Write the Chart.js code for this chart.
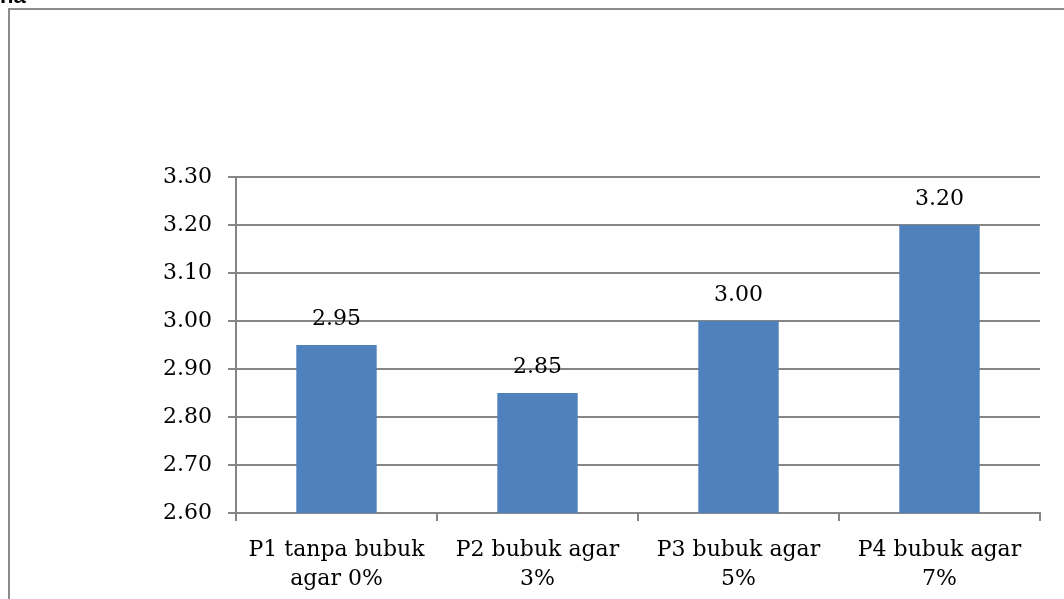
<!DOCTYPE html>
<html>
<head>
<meta charset="utf-8">
<script src="https://cdn.jsdelivr.net/npm/chart.js@4.4.0/dist/chart.umd.min.js"></script>
<style>
  html, body { margin: 0; padding: 0; background: #fff; }
  #wrap { position: relative; width: 1064px; height: 599px; overflow: hidden; }
  canvas { display: block; }
</style>
</head>
<body>
<div id="wrap"><canvas id="c" width="1064" height="599"></canvas></div>
<script>
// Treatments (agar powder concentration) and their mean scores
const categories = [
  ["P1 tanpa bubuk", "agar 0%"],
  ["P2 bubuk agar", "3%"],
  ["P3 bubuk agar", "5%"],
  ["P4 bubuk agar", "7%"]
];
const scores = [2.95, 2.85, 3.00, 3.20];
const yMin = 2.60;
const yMax = 3.30;
const yStep = 0.10;

const FONT = "'DejaVu Serif', 'Liberation Serif', serif";
const GRID = '#868686';
const BAR = '#4F81BD';

// Outer frame and the partly hidden heading above it
const framePlugin = {
  id: 'frame',
  beforeDraw(chart) {
    const ctx = chart.ctx;
    ctx.save();
    ctx.fillStyle = '#fff';
    ctx.fillRect(0, 0, chart.width, chart.height);
    ctx.strokeStyle = '#8c8c8c';
    ctx.lineWidth = 2;
    ctx.strokeRect(9, 9, chart.width + 20, chart.height + 20);
    ctx.fillStyle = '#000';
    ctx.font = "bold 22px 'Liberation Sans', Arial, sans-serif";
    ctx.textBaseline = 'alphabetic';
    ctx.fillText('na', 0, 3);
    ctx.restore();
  }
};

// Value printed above each bar
const valueLabels = {
  id: 'valueLabels',
  afterDatasetsDraw(chart) {
    const ctx = chart.ctx;
    const meta = chart.getDatasetMeta(0);
    ctx.save();
    ctx.fillStyle = '#000';
    ctx.font = '22px ' + FONT;
    ctx.textAlign = 'center';
    ctx.textBaseline = 'middle';
    meta.data.forEach((bar, i) => {
      ctx.fillText(scores[i].toFixed(2), bar.x, bar.y - 26);
    });
    ctx.restore();
  }
};

new Chart(document.getElementById('c'), {
  type: 'bar',
  data: {
    labels: categories,
    datasets: [{
      data: scores,
      backgroundColor: BAR,
      borderWidth: 0,
      barPercentage: 0.4,
      categoryPercentage: 1.0
    }]
  },
  options: {
    responsive: false,
    animation: false,
    layout: { padding: { top: 177, right: 24, left: 0, bottom: 0 } },
    plugins: { legend: { display: false }, tooltip: { enabled: false } },
    scales: {
      x: {
        offset: true,
        grid: {
          offset: true,
          drawOnChartArea: false,
          drawTicks: true,
          tickLength: 8,
          color: GRID,
          lineWidth: 2
        },
        border: { color: GRID, width: 2 },
        ticks: {
          color: '#000',
          font: { family: FONT, size: 22, lineHeight: 1.32 },
          padding: 15,
          maxRotation: 0,
          autoSkip: false
        },
        afterFit(scale) { scale.height = 86; }
      },
      y: {
        min: yMin,
        max: yMax,
        grid: {
          color: GRID,
          lineWidth: 2,
          tickLength: 8
        },
        border: { color: GRID, width: 2 },
        ticks: {
          stepSize: yStep,
          color: '#000',
          font: { family: FONT, size: 22 },
          padding: 16,
          callback: v => v.toFixed(2)
        },
        afterFit(scale) { scale.width = 236; }
      }
    }
  },
  plugins: [framePlugin, valueLabels]
});
</script>
</body>
</html>
